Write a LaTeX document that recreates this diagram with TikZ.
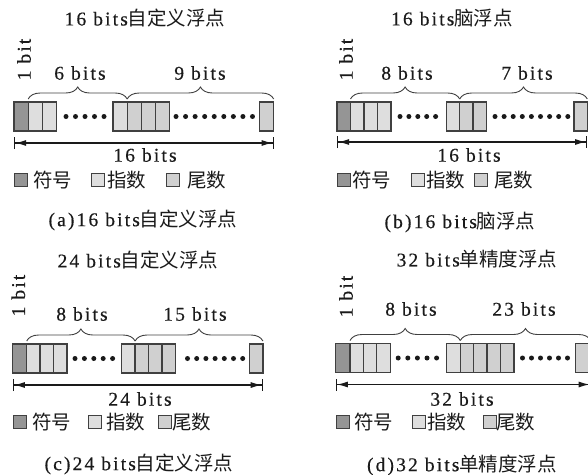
\documentclass[tikz,border=0pt]{standalone}
\usepackage{fontspec}
\setmainfont[LetterSpace=11,FakeBold=0.4]{Liberation Serif}
\newfontfamily\cjk{Noto Sans CJK SC}
\usetikzlibrary{arrows.meta,decorations.pathreplacing}
\definecolor{bd}{HTML}{404040}
\definecolor{sg}{HTML}{959595}
\definecolor{ex}{HTML}{DEDEDE}
\definecolor{mt}{HTML}{D0D0D0}
\definecolor{txt}{HTML}{1A1A1A}
\tikzset{
 cell/.style={draw=bd,line width=1.3pt,minimum height=29pt,inner sep=0pt,outer sep=0pt,anchor=north west},
 sgn/.style={cell,fill=sg},
 expo/.style={cell,fill=ex},
 mant/.style={cell,fill=mt},
 lsq/.style={draw=bd,line width=1.2pt,minimum width=13pt,minimum height=13pt,inner sep=0pt,anchor=west},
 txtn/.style={font=\fontsize{19.5}{21}\selectfont,text=txt,inner sep=0pt},
 brc/.style={decorate,decoration={brace,amplitude=12pt},draw=bd,line width=0.9pt},
 dimline/.style={line width=1.2pt,draw=txt,{Bar[width=12pt]Latex[length=11pt,width=6pt]}-{Latex[length=11pt,width=6pt]Bar[width=12pt]}},
}
\begin{document}
\begin{tikzpicture}[x=1pt,y=-1pt]
\useasboundingbox (0,0) rectangle (588,474);
% ---------------- (a)
\node[txtn] (a-title) at (145,18) {16 bits{\cjk 自定义浮点}};
\node[txtn,rotate=90] (a-1bit) at (24,59.5) {1 bit};
\begin{scope}[every node/.append style={minimum width=14.2pt}]
\node[sgn] (a0) at (14,102) {};
\node[expo] (a1) at (28.2,102) {};
\node[expo] (a2) at (42.4,102) {};
\node[expo] (a3) at (113,102) {};
\node[mant] (a4) at (127.2,102) {};
\node[mant] (a5) at (141.4,102) {};
\node[mant] (a6) at (155.6,102) {};
\node[mant] (a7) at (259.5,102) {};
\end{scope}
\foreach \i in {0,...,4} \fill[txt] (66+9.5*\i,116.5) circle (2.5pt);
\foreach \i in {0,...,8} \fill[txt] (176+9.56*\i,116.5) circle (2.5pt);
\draw[brc] ([yshift=3pt]a1.north west) -- ([yshift=3pt]a4.north west);
\draw[brc] ([yshift=3pt]a4.north west) -- ([yshift=3pt]a7.north east);
\node[txtn] (a-e) at (80,73) {6 bits};
\node[txtn] (a-m) at (200,73) {9 bits};
\draw[dimline] ([yshift=-12pt]a0.south west) -- ([yshift=-12pt]a7.south east);
\node[txtn] (a-tot) at (145,155) {16 bits};
\node[lsq,fill=sg] (a-ls) at (14,180) {};
\node[txtn,anchor=west] (a-lst) at (33,180) {\cjk 符号};
\node[lsq,fill=ex] (a-le) at (91,180) {};
\node[txtn,anchor=west] (a-let) at (107,180) {\cjk 指数};
\node[lsq,fill=mt] (a-lm) at (166,180) {};
\node[txtn,anchor=west] (a-lmt) at (187,180) {\cjk 尾数};
\node[txtn] (a-cap) at (143,220) {(a)16 bits{\cjk 自定义浮点}};
% ---------------- (b)
\node[txtn] (b-title) at (452,18) {16 bits{\cjk 脑浮点}};
\node[txtn,rotate=90] (b-1bit) at (346,59.5) {1 bit};
\begin{scope}[every node/.append style={minimum width=13.5pt}]
\node[sgn] (b0) at (337,102) {};
\node[expo] (b1) at (350.5,102) {};
\node[expo] (b2) at (364,102) {};
\node[expo] (b3) at (377.5,102) {};
\node[expo] (b4) at (446.3,102) {};
\node[mant] (b5) at (459.7,102) {};
\node[mant] (b6) at (473.1,102) {};
\node[mant,minimum width=13.3pt] (b7) at (574,102) {};
\end{scope}
\foreach \i in {0,...,4} \fill[txt] (400+8.9*\i,116.5) circle (2.5pt);
\foreach \i in {0,...,8} \fill[txt] (495+9.1*\i,116.5) circle (2.5pt);
\draw[brc] ([yshift=3pt]b1.north west) -- ([yshift=3pt]b5.north west);
\draw[brc] ([yshift=3pt]b5.north west) -- ([yshift=3pt]b7.north east);
\node[txtn] (b-e) at (407,73) {8 bits};
\node[txtn] (b-m) at (527,73) {7 bits};
\draw[dimline] ([yshift=-11pt]b0.south west) -- ([yshift=-11pt]b7.south east);
\node[txtn] (b-tot) at (469,155) {16 bits};
\node[lsq,fill=sg] (b-ls) at (337,180) {};
\node[txtn,anchor=west] (b-lst) at (352,180) {\cjk 符号};
\node[lsq,fill=ex] (b-le) at (411,180) {};
\node[txtn,anchor=west] (b-let) at (426,180) {\cjk 指数};
\node[lsq,fill=mt] (b-lm) at (474,180) {};
\node[txtn,anchor=west] (b-lmt) at (494,180) {\cjk 尾数};
\node[txtn] (b-cap) at (460,222) {(b)16 bits{\cjk 脑浮点}};
% ---------------- (c)
\node[txtn] (c-title) at (138,260) {24 bits{\cjk 自定义浮点}};
\node[txtn,rotate=90] (c-1bit) at (18.3,295.5) {1 bit};
\begin{scope}[every node/.append style={minimum width=13.4pt}]
\node[sgn,minimum width=14pt] (c0) at (12.7,344) {};
\node[expo] (c1) at (26.7,344) {};
\node[expo] (c2) at (40.1,344) {};
\node[expo] (c3) at (53.5,344) {};
\node[expo] (c4) at (121.7,344) {};
\node[mant] (c5) at (135.1,344) {};
\node[mant] (c6) at (148.5,344) {};
\node[mant] (c7) at (161.9,344) {};
\node[mant] (c8) at (249.5,344) {};
\end{scope}
\foreach \i in {0,...,4} \fill[txt] (75+9.4*\i,358.5) circle (2.5pt);
\foreach \i in {0,...,6} \fill[txt] (187.5+9.2*\i,358.5) circle (2.5pt);
\draw[brc] ([yshift=3pt]c1.north west) -- ([yshift=3pt]c5.north west);
\draw[brc] ([yshift=3pt]c5.north west) -- ([yshift=3pt]c8.north east);
\node[txtn] (c-e) at (82,314) {8 bits};
\node[txtn] (c-m) at (195,314) {15 bits};
\draw[dimline] ([yshift=-12pt]c0.south west) -- ([yshift=-12pt]c8.south east);
\node[txtn] (c-tot) at (140,399) {24 bits};
\node[lsq,fill=sg] (c-ls) at (13,422) {};
\node[txtn,anchor=west] (c-lst) at (32,422) {\cjk 符号};
\node[lsq,fill=ex] (c-le) at (88,422) {};
\node[txtn,anchor=west] (c-let) at (106,422) {\cjk 指数};
\node[lsq,fill=mt] (c-lm) at (157.5,422) {};
\node[txtn,anchor=west] (c-lmt) at (172,422) {\cjk 尾数};
\node[txtn] (c-cap) at (139,464) {(c)24 bits{\cjk 自定义浮点}};
% ---------------- (d)
\node[txtn] (d-title) at (477,259) {32 bits{\cjk 单精度浮点}};
\node[txtn,rotate=90] (d-1bit) at (346,296.5) {1 bit};
\begin{scope}[every node/.append style={minimum width=13.4pt}]
\node[sgn,minimum width=14.3pt] (d0) at (335.7,343.5) {};
\node[expo] (d1) at (350,343.5) {};
\node[expo] (d2) at (363.4,343.5) {};
\node[expo] (d3) at (376.8,343.5) {};
\node[expo,minimum width=14pt] (d4) at (446.3,343.5) {};
\node[mant] (d5) at (460.3,343.5) {};
\node[mant] (d6) at (473.7,343.5) {};
\node[mant] (d7) at (487.1,343.5) {};
\node[mant] (d8) at (500.5,343.5) {};
\node[mant,minimum width=15pt] (d9) at (575.7,343.5) {};
\end{scope}
\foreach \i in {0,...,4} \fill[txt] (398.2+9.6*\i,358) circle (2.5pt);
\foreach \i in {0,...,5} \fill[txt] (522.5+9*\i,358) circle (2.5pt);
\draw[brc] ([yshift=3pt]d1.north west) -- ([yshift=3pt]d5.north west);
\draw[brc] ([yshift=3pt]d5.north west) -- ([yshift=3pt]d9.north east);
\node[txtn] (d-e) at (411,309) {8 bits};
\node[txtn] (d-m) at (524,309) {23 bits};
\draw[dimline] ([yshift=-12pt]d0.south west) -- ([yshift=-12pt]d9.south east);
\node[txtn] (d-tot) at (462,399) {32 bits};
\node[lsq,fill=sg] (d-ls) at (336,422) {};
\node[txtn,anchor=west] (d-lst) at (354,422) {\cjk 符号};
\node[lsq,fill=ex] (d-le) at (412,422) {};
\node[txtn,anchor=west] (d-let) at (427,422) {\cjk 指数};
\node[lsq,fill=mt] (d-lm) at (482.5,422) {};
\node[txtn,anchor=west] (d-lmt) at (496,422) {\cjk 尾数};
\node[txtn] (d-cap) at (462,465) {(d)32 bits{\cjk 单精度浮点}};
\end{tikzpicture}
\end{document}
